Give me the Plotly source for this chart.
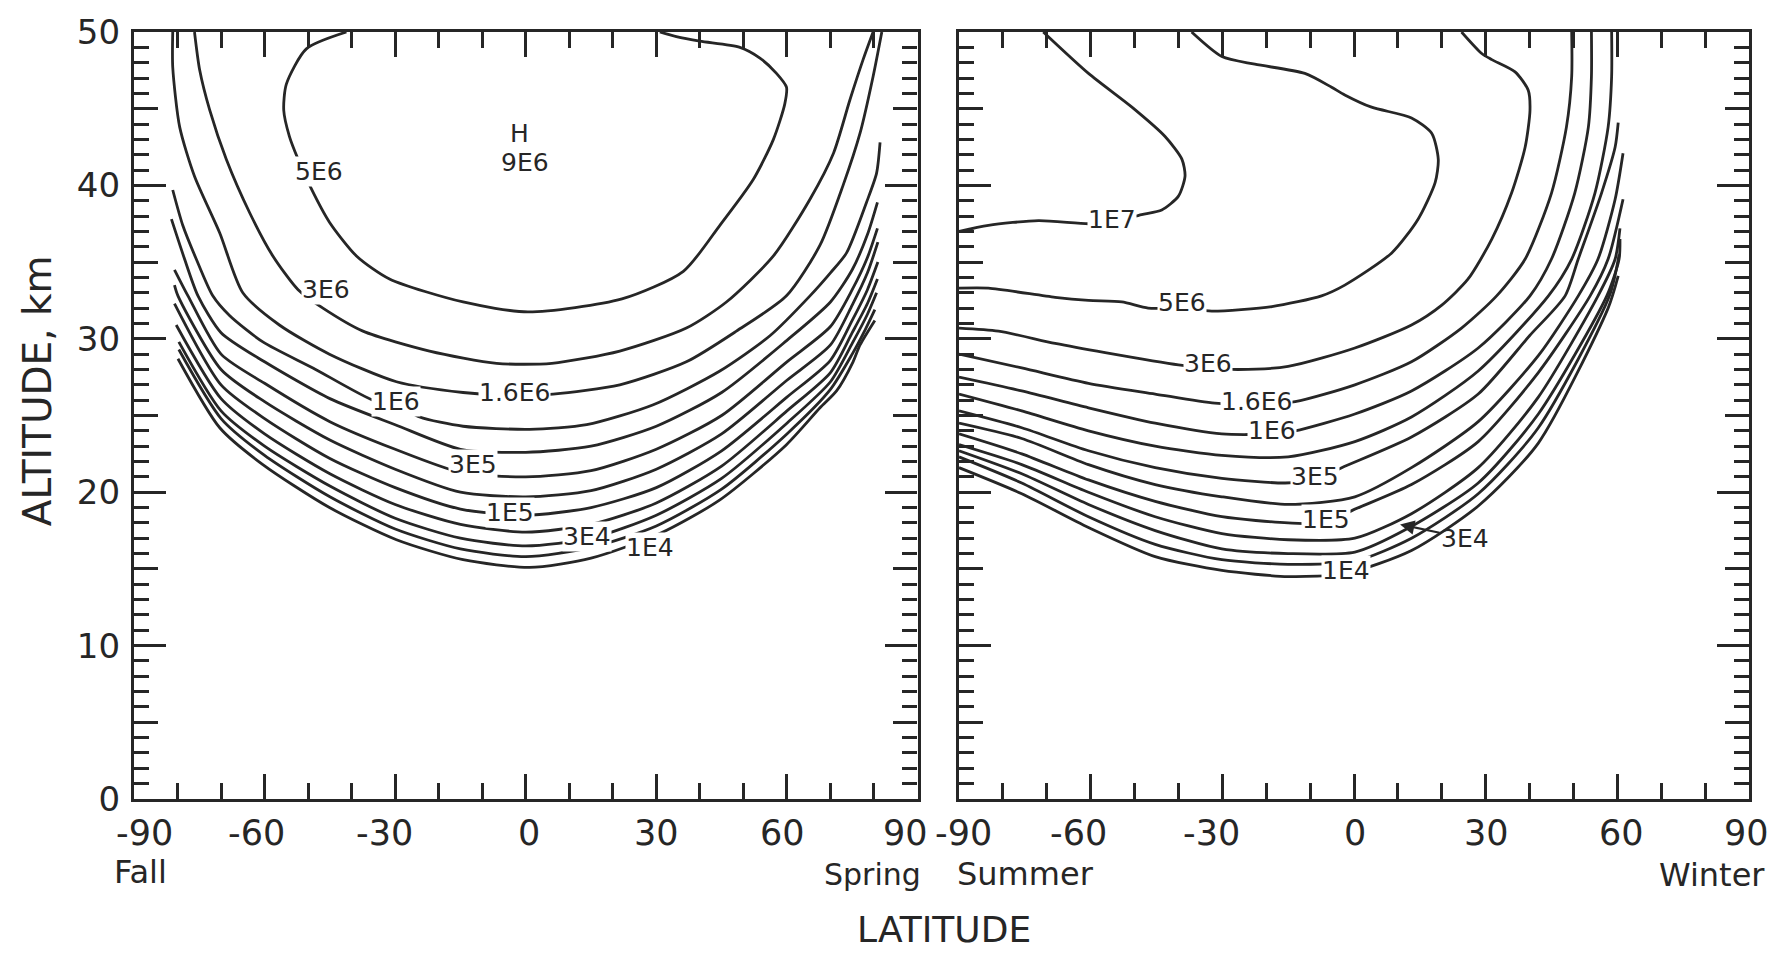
import plotly.graph_objects as go

# ------------------------------------------------------------------
# DATA  (latitude in degrees, altitude in km)
# ------------------------------------------------------------------
# Left panel: Fall (-90) ... Spring (+90)
fs_5e6_lat = [-41.2, -50.4, -55.0, -55.6, -54.3, -52.3, -49.3, -45.1, -38.9, -31.3, -14.4, 0.5, 22.1, 36.2, 44.6, 52.3, 56.9, 59.5, 59.9, 57.6, 53.8, 49.2, 40.0, 34.6, 30.8]
fs_5e6_alt = [50.0, 48.9, 46.6, 44.9, 43.2, 41.7, 39.8, 37.6, 35.4, 33.9, 32.4, 31.75, 32.6, 34.4, 37.4, 40.4, 43.0, 45.3, 46.4, 47.3, 48.3, 49.0, 49.4, 49.7, 50.0]

fs_3e6_lat = [-76.1, -74.9, -72.6, -68.8, -63.4, -58.1, -52.3, -46.6, -37.4, -22.1, -6.7, 6.0, 21.6, 36.9, 46.1, 56.9, 65.3, 70.7, 74.5, 77.5, 79.8]
fs_3e6_alt = [50.0, 47.5, 44.9, 41.7, 38.2, 35.4, 33.2, 32.0, 30.5, 29.2, 28.4, 28.4, 29.2, 30.7, 32.4, 35.4, 39.1, 42.1, 45.6, 48.2, 50.0]

fs_16e6_lat = [-81.1, -81.1, -79.5, -76.1, -70.3, -65.0, -56.6, -45.1, -29.7, -14.4, -2.6, 6.3, 21.6, 36.9, 48.4, 59.9, 67.6, 72.9, 76.8, 79.8, 81.8]
fs_16e6_alt = [50.0, 47.7, 43.8, 40.6, 36.9, 33.0, 30.9, 29.0, 27.2, 26.5, 26.3, 26.4, 27.0, 28.5, 30.5, 32.8, 36.1, 40.0, 43.4, 47.1, 50.0]

fs_1e6_lat = [-81.1, -78.8, -75.7, -71.9, -68.0, -60.4, -48.9, -35.1, -29.7, -24.4, -14.4, 0.9, 14.0, 29.3, 44.6, 56.1, 65.3, 70.0, 73.7, 78.3, 80.6, 81.4]
fs_1e6_alt = [39.7, 37.4, 35.2, 32.8, 31.5, 29.8, 28.1, 26.0, 25.7, 24.9, 24.3, 24.1, 24.4, 25.7, 27.9, 30.2, 32.8, 34.3, 35.6, 38.9, 40.8, 42.8]

fs_6e5_lat = [-81.4, -78.5, -75.3, -70.0, -60.0, -45.0, -30.0, -15.0, 0.0, 15.0, 30.0, 45.0, 60.0, 70.0, 75.0, 78.5, 80.8]
fs_6e5_alt = [37.8, 35.3, 32.8, 30.4, 28.5, 26.1, 24.4, 22.8, 22.6, 23.0, 24.3, 26.5, 29.9, 32.4, 34.5, 36.8, 38.9]

fs_3e5_lat = [-80.7, -77.6, -70.0, -60.0, -45.0, -30.0, -15.0, 0.0, 15.0, 30.0, 45.0, 60.0, 70.0, 75.0, 78.5, 80.8]
fs_3e5_alt = [34.5, 32.8, 29.0, 27.1, 24.6, 22.8, 21.3, 21.0, 21.4, 22.8, 25.0, 28.5, 30.8, 33.2, 35.3, 37.2]

fs_16e5_lat = [-80.7, -79.9, -70.0, -60.0, -45.0, -30.0, -15.0, 0.0, 15.0, 30.0, 45.0, 60.0, 70.0, 75.0, 78.5, 80.9]
fs_16e5_alt = [33.5, 32.8, 28.0, 25.9, 23.4, 21.5, 20.0, 19.7, 20.1, 21.5, 23.8, 27.3, 29.6, 32.2, 34.3, 36.3]

fs_1e5_lat = [-80.7, -70.0, -60.0, -45.0, -30.0, -15.0, 0.0, 15.0, 30.0, 45.0, 60.0, 70.0, 75.0, 78.5, 80.9]
fs_1e5_alt = [32.3, 27.0, 24.8, 22.2, 20.3, 18.9, 18.5, 19.0, 20.3, 22.7, 26.2, 28.6, 31.2, 33.2, 35.0]

fs_6e4_lat = [-80.3, -70.0, -60.0, -45.0, -30.0, -15.0, 0.0, 15.0, 30.0, 45.0, 60.0, 70.0, 75.0, 78.5, 80.8]
fs_6e4_alt = [30.9, 26.1, 23.8, 21.2, 19.2, 17.9, 17.4, 17.9, 19.3, 21.7, 25.3, 27.8, 30.4, 32.3, 33.9]

fs_3e4_lat = [-79.7, -70.0, -60.0, -45.0, -30.0, -15.0, 0.0, 15.0, 30.0, 45.0, 60.0, 70.0, 75.0, 78.5, 80.6]
fs_3e4_alt = [29.8, 25.3, 23.0, 20.4, 18.3, 17.0, 16.5, 17.0, 18.5, 20.9, 24.5, 27.2, 29.7, 31.6, 33.0]

fs_16e4_lat = [-79.7, -70.0, -60.0, -45.0, -30.0, -15.0, 0.0, 15.0, 30.0, 45.0, 60.0, 70.0, 75.0, 78.0, 80.2]
fs_16e4_alt = [29.3, 24.8, 22.4, 19.7, 17.6, 16.3, 15.8, 16.4, 17.8, 20.2, 23.8, 26.7, 29.0, 30.6, 31.9]

fs_1e4_lat = [-79.9, -70.3, -60.4, -45.1, -29.7, -14.4, 0.9, 15.0, 30.8, 44.6, 59.9, 67.6, 71.4, 75.2, 76.8, 80.2]
fs_1e4_alt = [28.7, 24.2, 21.8, 19.0, 16.9, 15.6, 15.1, 15.7, 17.3, 19.5, 23.1, 25.5, 26.6, 28.5, 29.6, 31.2]

# Right panel: Summer (-90) ... Winter (+90)
sw_1e7_lat = [-70.8, -60.5, -50.6, -43.1, -39.2, -38.5, -40.0, -43.8, -48.4, -55.2, -60.5, -71.9, -83.3, -90.0]
sw_1e7_alt = [50.0, 47.3, 45.1, 43.2, 41.7, 40.6, 39.3, 38.4, 38.1, 37.6, 37.5, 37.7, 37.4, 37.0]

sw_5e6_lat = [-37.0, -30.1, -22.6, -11.2, -5.1, -2.1, 4.0, 13.1, 17.7, 19.2, 18.5, 14.6, 8.6, -2.1, -7.4, -18.7, -32.4, -39.3, -46.9, -52.9, -60.5, -68.1, -83.3, -90.0]
sw_5e6_alt = [50.0, 48.4, 47.9, 47.3, 46.4, 45.9, 45.1, 44.4, 43.4, 41.7, 40.2, 37.8, 35.6, 33.5, 32.8, 32.1, 31.8, 32.0, 32.0, 32.4, 32.5, 32.7, 33.3, 33.3]

sw_3e6_lat = [-90.0, -81.0, -68.1, -56.7, -40.0, -33.2, -26.4, -15.0, 0.2, 13.1, 20.0, 26.0, 31.4, 35.9, 39.0, 40.1, 39.7, 36.7, 31.4, 29.1, 24.5]
sw_3e6_alt = [30.7, 30.5, 29.7, 29.1, 28.3, 28.1, 28.0, 28.2, 29.4, 30.9, 32.2, 33.9, 36.5, 39.5, 42.5, 44.9, 46.2, 47.4, 48.2, 48.6, 50.0]

sw_16e6_lat = [-90.0, -75.7, -60.5, -45.3, -31.7, -22.2, -13.4, 0.2, 13.1, 24.5, 32.5, 39.0, 45.0, 48.4, 49.6, 49.6]
sw_16e6_alt = [29.0, 28.1, 27.1, 26.4, 25.8, 25.7, 25.9, 27.0, 28.5, 30.7, 32.8, 35.2, 39.5, 43.8, 47.1, 50.0]

sw_1e6_lat = [-90.0, -75.7, -60.5, -45.3, -30.1, -18.7, -13.4, 0.2, 13.1, 28.3, 40.1, 45.0, 50.3, 53.4, 54.1, 54.1]
sw_1e6_alt = [27.5, 26.6, 25.5, 24.5, 23.8, 23.8, 24.0, 25.1, 26.6, 29.4, 32.8, 35.2, 39.5, 43.8, 47.1, 50.0]

sw_6e5_lat = [-90.0, -75.7, -60.5, -45.3, -30.1, -15.0, 0.2, 13.1, 28.3, 44.3, 49.6, 54.9, 57.9, 58.7, 58.7]
sw_6e5_alt = [26.4, 25.3, 24.0, 23.0, 22.4, 22.3, 23.3, 24.9, 27.9, 32.8, 35.2, 39.5, 43.8, 47.1, 50.0]

sw_3e5_lat = [-90.0, -75.7, -60.5, -45.3, -30.1, -15.7, -8.9, -2.8, 13.1, 28.3, 40.0, 48.1, 51.1, 56.4, 59.5, 60.2]
sw_3e5_alt = [25.3, 24.2, 22.7, 21.6, 20.9, 20.6, 20.8, 21.6, 23.6, 26.4, 30.2, 32.8, 35.2, 39.5, 42.5, 44.1]

sw_16e5_lat = [-90.0, -75.7, -60.5, -45.3, -30.1, -15.0, 0.2, 13.1, 28.3, 42.0, 51.1, 55.6, 59.5, 61.3]
sw_16e5_alt = [24.5, 23.5, 21.8, 20.5, 19.7, 19.2, 19.7, 21.6, 24.6, 28.9, 32.8, 35.2, 39.1, 42.1]

sw_1e5_lat = [-90.0, -75.7, -60.5, -45.3, -30.1, -15.0, -6.3, -0.5, 13.1, 28.3, 42.0, 53.8, 57.9, 61.3]
sw_1e5_alt = [23.8, 22.5, 20.8, 19.4, 18.4, 18.0, 18.0, 18.8, 20.5, 23.3, 27.8, 32.8, 35.2, 39.1]

sw_6e4_lat = [-90.0, -75.7, -60.5, -45.3, -30.1, -15.0, 0.2, 13.1, 28.3, 42.0, 55.6, 59.5, 60.6]
sw_6e4_alt = [23.1, 21.8, 20.0, 18.4, 17.3, 16.9, 17.0, 18.6, 21.6, 26.2, 32.8, 35.2, 37.2]

sw_3e4_lat = [-90.0, -75.7, -60.5, -45.3, -30.1, -15.0, 0.2, 12.0, 28.3, 42.0, 57.6, 60.4, 60.6]
sw_3e4_alt = [22.7, 21.2, 19.2, 17.5, 16.3, 16.0, 16.1, 17.6, 20.6, 25.1, 32.8, 35.2, 36.5]

sw_16e4_lat = [-90.0, -75.7, -60.5, -45.3, -30.1, -15.0, 0.2, 13.1, 28.3, 42.0, 58.2, 60.4]
sw_16e4_alt = [22.3, 20.6, 18.4, 16.6, 15.6, 15.3, 15.5, 17.0, 19.9, 24.2, 32.8, 35.5]

sw_1e4_lat = [-90.0, -75.7, -60.5, -45.3, -30.1, -15.0, -1.8, 13.1, 28.3, 42.0, 57.9, 60.2]
sw_1e4_alt = [21.6, 19.9, 17.7, 15.8, 14.9, 14.5, 14.7, 16.2, 19.1, 23.2, 32.0, 34.1]

# contour labels
fs_label_text = ["5E6", "3E6", "1.6E6", "1E6", "3E5", "1E5", "3E4", "1E4", "H", "9E6"]
fs_label_lat = [-47.4, -45.8, -2.6, -29.7, -12.1, -3.7, 14.0, 28.5, -1.5, -0.2]
fs_label_alt = [40.7, 33.0, 26.3, 25.7, 21.6, 18.5, 16.9, 16.2, 43.2, 41.3]

sw_label_text = ["1E7", "5E6", "3E6", "1.6E6", "1E6", "3E5", "1E5", "1E4"]
sw_label_lat = [-55.2, -39.3, -33.2, -22.2, -18.7, -8.9, -6.3, -1.8]
sw_label_alt = [37.6, 32.2, 28.2, 25.7, 23.8, 20.8, 18.0, 14.7]

sw_arrow_label = "3E4"
sw_arrow_label_pos = [25.3, 17.0]
sw_arrow_tip = [10.5, 17.9]

# axes
lat_tick_vals = [-90, -60, -30, 0, 30, 60, 90]
lat_tick_text = ["-90", "-60", "-30", "0", "30", "60", "90"]
alt_tick_vals = [0, 10, 20, 30, 40, 50]
alt_mid_vals = [5, 15, 25, 35, 45]

# ------------------------------------------------------------------
INK = "#262626"
FONT = "DejaVu Sans"

fig = go.Figure()

def add_line(lat, alt, xa, ya):
    fig.add_trace(go.Scatter(
        x=lat, y=alt, mode="lines", xaxis=xa, yaxis=ya,
        line=dict(color=INK, width=2.8, shape="spline", smoothing=0.7),
        hoverinfo="skip", showlegend=False))

left_lines = [(fs_5e6_lat, fs_5e6_alt), (fs_3e6_lat, fs_3e6_alt), (fs_16e6_lat, fs_16e6_alt),
              (fs_1e6_lat, fs_1e6_alt), (fs_6e5_lat, fs_6e5_alt), (fs_3e5_lat, fs_3e5_alt),
              (fs_16e5_lat, fs_16e5_alt), (fs_1e5_lat, fs_1e5_alt), (fs_6e4_lat, fs_6e4_alt),
              (fs_3e4_lat, fs_3e4_alt), (fs_16e4_lat, fs_16e4_alt), (fs_1e4_lat, fs_1e4_alt)]
right_lines = [(sw_1e7_lat, sw_1e7_alt), (sw_5e6_lat, sw_5e6_alt), (sw_3e6_lat, sw_3e6_alt),
               (sw_16e6_lat, sw_16e6_alt), (sw_1e6_lat, sw_1e6_alt), (sw_6e5_lat, sw_6e5_alt),
               (sw_3e5_lat, sw_3e5_alt), (sw_16e5_lat, sw_16e5_alt), (sw_1e5_lat, sw_1e5_alt),
               (sw_6e4_lat, sw_6e4_alt), (sw_3e4_lat, sw_3e4_alt), (sw_16e4_lat, sw_16e4_alt),
               (sw_1e4_lat, sw_1e4_alt)]
for la, al in left_lines:
    add_line(la, al, "x", "y")
for la, al in right_lines:
    add_line(la, al, "x2", "y2")
# empty traces so the mid-tick overlay axes are drawn
fig.add_trace(go.Scatter(x=[None], y=[None], xaxis="x", yaxis="y3", showlegend=False))
fig.add_trace(go.Scatter(x=[None], y=[None], xaxis="x2", yaxis="y4", showlegend=False))

W, H = 1773, 954
ML, MR, MT, MB = 134, 24, 24, 155
plot_w = W - ML - MR
x1_end = (917.5 - ML) / plot_w
x2_start = (959 - ML) / plot_w

xcommon = dict(range=[-90, 90], showgrid=False, zeroline=False, showline=True,
               linecolor=INK, linewidth=3.2, mirror="ticks", ticks="inside",
               tick0=0, dtick=30, ticklen=25, tickwidth=2.6, tickcolor=INK,
               minor=dict(dtick=10, tick0=0, ticks="inside", ticklen=16, tickwidth=2.6, tickcolor=INK),
               showticklabels=False, fixedrange=True)
ycommon = dict(range=[0, 50], showgrid=False, zeroline=False, showline=True,
               linecolor=INK, linewidth=3.2, mirror="ticks", ticks="inside",
               tickmode="array", tickvals=alt_tick_vals, ticklen=32, tickwidth=2.6, tickcolor=INK,
               minor=dict(dtick=1, tick0=0, ticks="inside", ticklen=15, tickwidth=2.6, tickcolor=INK),
               fixedrange=True)
ymid = dict(range=[0, 50], showgrid=False, zeroline=False, showline=True, linecolor=INK,
            linewidth=3.2, mirror="ticks", ticks="inside", tickmode="array", tickvals=alt_mid_vals,
            ticklen=24, tickwidth=2.6, tickcolor=INK, showticklabels=False, fixedrange=True)

fig.update_layout(
    width=W, height=H, margin=dict(l=ML, r=MR, t=MT, b=MB),
    paper_bgcolor="white", plot_bgcolor="white", showlegend=False,
    font=dict(family=FONT, color=INK),
    xaxis=dict(domain=[0, x1_end], anchor="y", **xcommon),
    xaxis2=dict(domain=[x2_start, 1], anchor="y2", **xcommon),
    yaxis=dict(domain=[0, 1], anchor="x", showticklabels=True,
               tickfont=dict(family=FONT, size=34, color=INK), ticklabelstandoff=4, **ycommon),
    yaxis2=dict(domain=[0, 1], anchor="x2", showticklabels=False, **ycommon),
    yaxis3=dict(overlaying="y", anchor="x", side="left", **ymid),
    yaxis4=dict(overlaying="y2", anchor="x2", side="left", **ymid),
)

ann = []
LAB = dict(family=FONT, size=25, color=INK)
# contour labels
for t, la, al in zip(fs_label_text, fs_label_lat, fs_label_alt):
    ann.append(dict(x=la, y=al, xref="x", yref="y", text=t, showarrow=False, yshift=3,
                    font=LAB, bgcolor="white" if t not in ("H", "9E6") else None, borderpad=0))
for t, la, al in zip(sw_label_text, sw_label_lat, sw_label_alt):
    ann.append(dict(x=la, y=al, xref="x2", yref="y2", text=t, showarrow=False, yshift=3,
                    font=LAB, bgcolor="white", borderpad=0))
ann.append(dict(x=sw_arrow_tip[0], y=sw_arrow_tip[1], xref="x2", yref="y2",
                ax=sw_arrow_label_pos[0], ay=sw_arrow_label_pos[1], axref="x2", ayref="y2",
                text=sw_arrow_label, showarrow=True, arrowhead=2, arrowsize=1.3, arrowwidth=2.2,
                arrowcolor=INK, font=LAB, standoff=0))

# latitude tick labels (one set per panel)
TICKF = dict(family=FONT, size=35, color=INK)
left_shift = [10, -8, -11, 3, 0, -4, -12]
right_shift = [4, -12, -11, 1, 1, 4, -3]
for v, t, s in zip(lat_tick_vals, lat_tick_text, left_shift):
    ann.append(dict(x=v, y=0, xref="x", yref="paper", text=t, showarrow=False, xshift=s,
                    yshift=-34, yanchor="middle", font=TICKF))
for v, t, s in zip(lat_tick_vals, lat_tick_text, right_shift):
    ann.append(dict(x=v, y=0, xref="x2", yref="paper", text=t, showarrow=False, xshift=s,
                    yshift=-34, yanchor="middle", font=TICKF))

def px_x(px):
    return (px - ML) / plot_w

def px_y(py):
    return (H - MB - py) / (H - MT - MB)

seas = dict(family=FONT, size=32, color=INK)
ann.append(dict(x=px_x(112), y=px_y(873), xref="paper", yref="paper", text="Fall",
                showarrow=False, xanchor="left", yanchor="middle", font=seas))
ann.append(dict(x=px_x(822), y=px_y(875), xref="paper", yref="paper", text="Spring",
                showarrow=False, xanchor="left", yanchor="middle", font=dict(family=FONT, size=30, color=INK)))
ann.append(dict(x=px_x(955), y=px_y(875), xref="paper", yref="paper", text="Summer",
                showarrow=False, xanchor="left", yanchor="middle", font=seas))
ann.append(dict(x=px_x(1767), y=px_y(876), xref="paper", yref="paper", text="Winter",
                showarrow=False, xanchor="right", yanchor="middle", font=seas))
ann.append(dict(x=px_x(944), y=px_y(931), xref="paper", yref="paper", text="LATITUDE",
                showarrow=False, xanchor="center", yanchor="middle",
                font=dict(family=FONT, size=36, color=INK)))
ann.append(dict(x=px_x(37), y=px_y(387), xref="paper", yref="paper", text="ALTITUDE, km",
                showarrow=False, xanchor="center", yanchor="middle", textangle=-90,
                font=dict(family=FONT, size=39, color=INK)))

fig.update_layout(annotations=ann)
fig.write_html("out.html")
